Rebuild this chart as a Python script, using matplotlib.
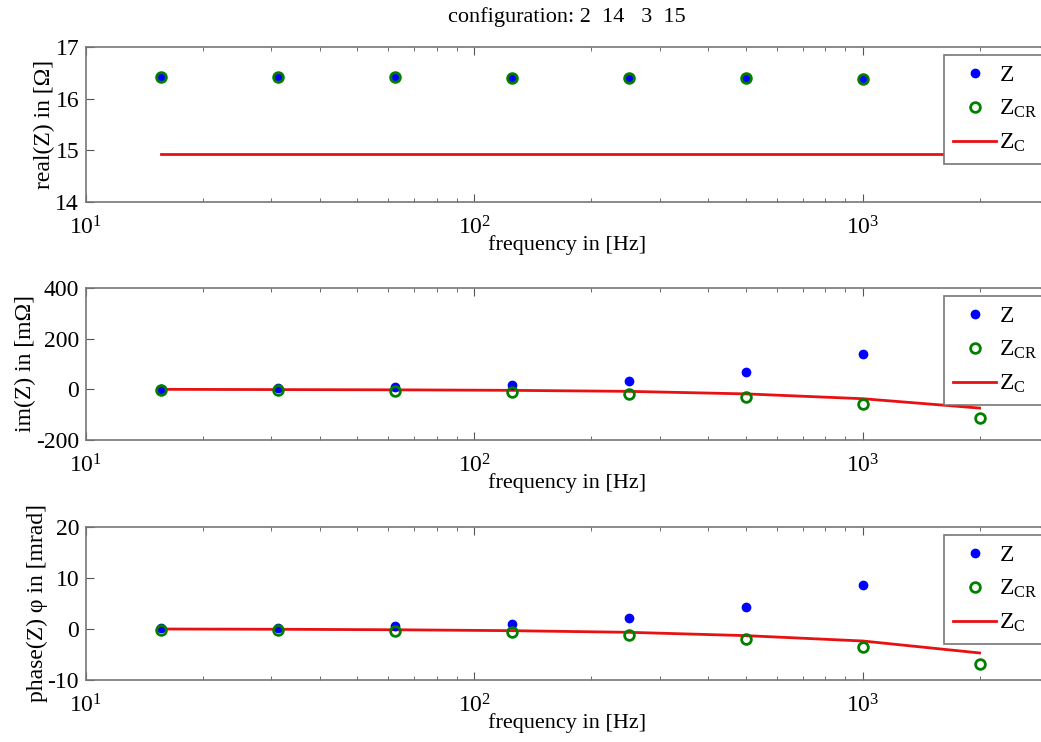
import matplotlib
matplotlib.use("Agg")
import matplotlib.pyplot as plt
import numpy as np

plt.rcParams['font.family'] = ['Liberation Serif', 'DejaVu Serif']
plt.rcParams['mathtext.fontset'] = 'custom'
plt.rcParams['mathtext.rm'] = 'Liberation Serif'
plt.rcParams['mathtext.it'] = 'Liberation Serif:italic'
plt.rcParams['axes.unicode_minus'] = False
plt.rcParams['font.size'] = 16

# measurement frequencies in Hz
freq = [15.625, 31.25, 62.5, 125, 250, 500, 1000, 2000]

# real part in Ohm
real_z = [16.41, 16.41, 16.41, 16.40, 16.40, 16.40, 16.39, 16.39]
real_zcr = [16.41, 16.41, 16.41, 16.40, 16.40, 16.40, 16.39, 16.39]
real_zc = [14.92, 14.92, 14.92, 14.92, 14.92, 14.92, 14.92, 14.92]

# imaginary part in mOhm
im_z = [2, 4, 8.5, 17, 34, 68, 139, 278]
im_zcr = [-2, -3.5, -7, -12, -19, -32, -57, -115]
im_zc = [0, -1, -2, -4, -8, -18, -37, -74]

# phase in mrad
ph_z = [0.13, 0.27, 0.54, 1.05, 2.1, 4.25, 8.6, 17.2]
ph_zcr = [-0.1, -0.2, -0.35, -0.65, -1.1, -1.9, -3.5, -6.9]
ph_zc = [0, -0.05, -0.15, -0.33, -0.65, -1.3, -2.35, -4.7]

panels = [
    (real_z, real_zcr, real_zc, 'real(Z) in [Ω]', (14, 17), [14, 15, 16, 17]),
    (im_z, im_zcr, im_zc, 'im(Z) in [mΩ]', (-200, 400), [-200, 0, 200, 400]),
    (ph_z, ph_zcr, ph_zc, 'phase(Z) φ in [mrad]', (-10, 20), [-10, 0, 10, 20]),
]

# axes boxes in pixels (top, bottom) of the 742 px tall figure
W, H = 1041, 742
left_px, right_px = 86, 1048
boxes = [(47, 202), (288, 440), (527, 680)]
legend_tops = [55, 296, 535]

fig = plt.figure(figsize=(W / 100, H / 100), dpi=100)

for k, (z, zcr, zc, ylab, ylim, yticks) in enumerate(panels):
    top, bot = boxes[k]
    ax = fig.add_axes([left_px / W, 1 - bot / H, (right_px - left_px) / W, (bot - top) / H])
    ax.plot(freq, z, 'o', color='#0000ff', markersize=6, label='Z', zorder=3)
    ax.plot(freq, zcr, 'o', markerfacecolor='none', markeredgecolor='#007f00',
            markeredgewidth=2, markersize=7, label='$\\mathrm{Z_{CR}}$', zorder=3)
    ax.plot(freq, zc, '-', color='#e81010', linewidth=2, label='$\\mathrm{Z_{C}}$', zorder=2)
    ax.set_xscale('log')
    ax.set_xlim(10, 3000)
    ax.set_ylim(*ylim)
    ax.set_yticks(yticks)
    ax.set_xticks([10, 100, 1000])
    ax.tick_params(which='both', direction='in', top=True, right=True, color='#555555')
    ax.tick_params(which='major', length=6, labelsize=17)
    ax.tick_params(axis='x', which='major', pad=10)
    ax.tick_params(axis='y', which='major', pad=5)
    ax.tick_params(which='minor', length=3)
    for s in ax.spines.values():
        s.set_color('#777777')
        s.set_linewidth(1.2)
    ax.set_ylabel(ylab, fontsize=17, labelpad=0)
    ax.set_xlabel('frequency in [Hz]', fontsize=16, labelpad=-3)
    if k == 0:
        ax.set_title('configuration: 2  14   3  15', fontsize=16, pad=18)
    leg = ax.legend(loc='upper left', bbox_to_anchor=(944 / W, 1 - legend_tops[k] / H),
                    bbox_transform=fig.transFigure, borderaxespad=0, fontsize=17,
                    fancybox=False, framealpha=1, edgecolor='#777777',
                    handlelength=1.8, handletextpad=0.15, labelspacing=0.5,
                    borderpad=0.4)
    leg.get_frame().set_linewidth(1.2)
    leg.set_zorder(5)

fig.savefig('out.png', dpi=100)
